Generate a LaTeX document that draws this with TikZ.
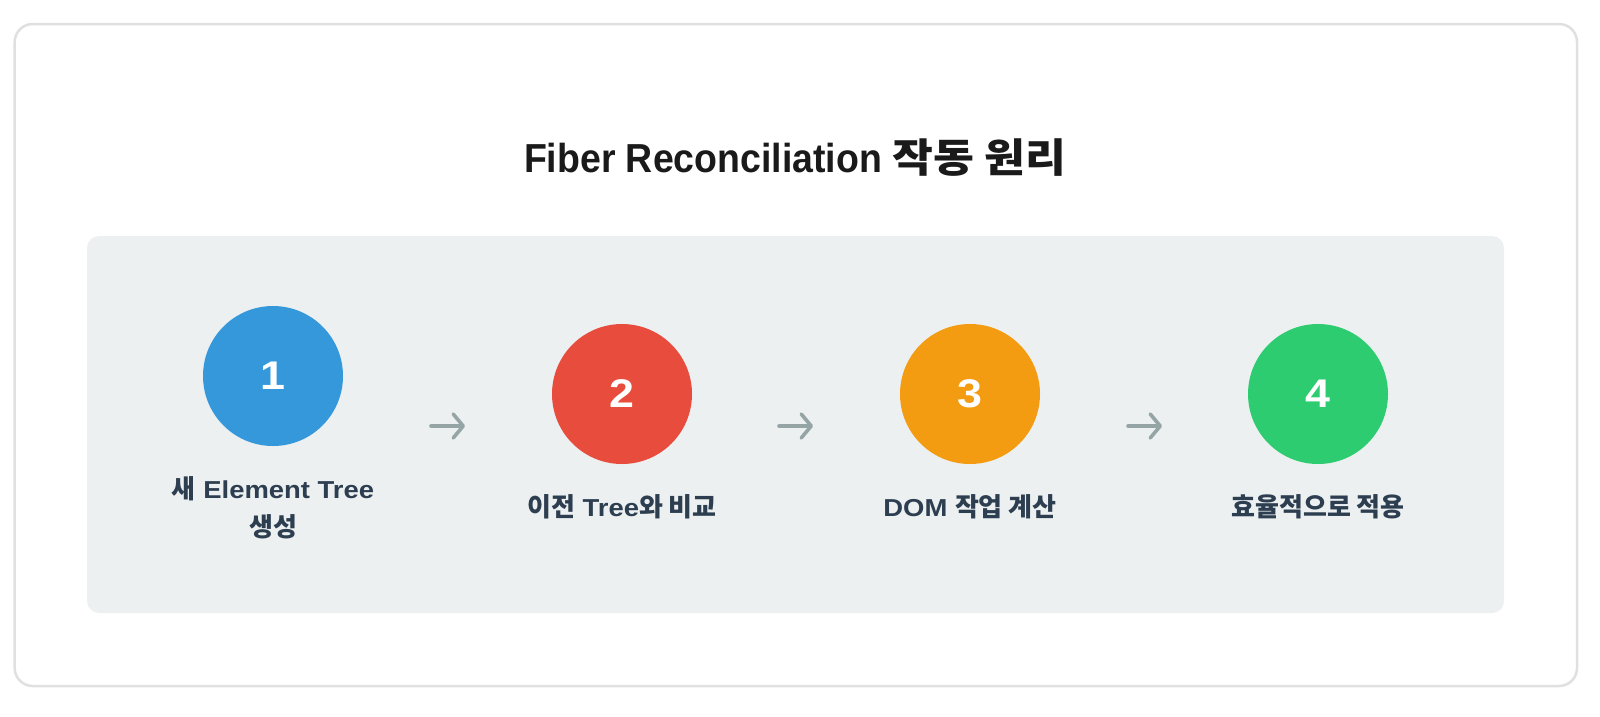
\documentclass[tikz,border=0pt]{standalone}
\usepackage{fontspec}
\usetikzlibrary{arrows.meta}
\setmainfont{Liberation Sans}
\newfontfamily\latw[FakeStretch=1.12]{Liberation Sans}
\newfontfamily\latn[FakeStretch=0.925]{Liberation Sans}
\newfontfamily\kr{Noto Sans CJK KR}
\newfontfamily\krwide[FakeStretch=1.11]{Noto Sans CJK KR}
\newcommand{\krl}[1]{{\fontsize{26}{38}\selectfont\kr #1}}
\newcommand{\krt}[1]{{\fontsize{40}{48}\selectfont\krwide #1}}
\definecolor{cblue}{HTML}{3498DB}
\definecolor{cred}{HTML}{E74C3C}
\definecolor{corange}{HTML}{F39C12}
\definecolor{cgreen}{HTML}{2ECC71}
\definecolor{arrowgray}{HTML}{95A5A6}
\definecolor{labeltext}{HTML}{2C3E50}
\definecolor{titletext}{HTML}{1A1A1A}
\definecolor{panelbg}{HTML}{ECF0F1}
\definecolor{borderc}{HTML}{E0E0E0}
\tikzset{
  outerbox/.style={draw=borderc, line width=2.5pt, fill=white, rounded corners=18pt},
  panelbox/.style={fill=panelbg, rounded corners=12pt},
  titlestyle/.style={font=\fontsize{40.5}{48}\selectfont\bfseries\latn, text=titletext, inner sep=0pt},
  stepcirc/.style={circle, minimum size=140pt, inner sep=0pt, text=white,
    font=\fontsize{40}{40}\selectfont\bfseries\latw},
  steplabel/.style={font=\fontsize{24.5}{38}\selectfont\bfseries\latw, text=labeltext,
    align=center, inner sep=0pt},
  flowarrow/.style={draw=arrowgray, line width=3.6pt, line cap=round,
    -{Straight Barb[length=10pt,width=24pt,round]}}
}
\begin{document}
\begin{tikzpicture}[x=1pt,y=-1pt]
\useasboundingbox (0,0) rectangle (1600,716);
\fill[white] (0,0) rectangle (1600,716);
\draw[outerbox] (14.7,24) rectangle (1577,686);
\fill[panelbox] (87,236) rectangle (1504,613);

\node[titlestyle, anchor=base] (title) at (795,172) {Fiber Reconciliation \krt{작동 원리}};

\node[stepcirc, fill=cblue] (c1) at (273,376) {1};
\node[stepcirc, fill=cred] (c2) at (622,394) {2};
\node[stepcirc, fill=corange] (c3) at (970,394) {3};
\node[stepcirc, fill=cgreen] (c4) at (1318,394) {4};

\node[steplabel, anchor=base] (l1) at (273,536) {\krl{새} Element Tree\\\krl{생성}};
\node[steplabel, anchor=base] (l2) at (622,516) {\krl{이전} Tree\krl{와 비교}};
\node[steplabel, anchor=base] (l3) at (970,516) {DOM \krl{작업 계산}};
\node[steplabel, anchor=base] (l4) at (1318,516) {\krl{효율적으로 적용}};

\coordinate (a1s) at (431,426);
\coordinate (a1e) at (465,426);
\coordinate (a2s) at (779,426);
\coordinate (a2e) at (813,426);
\coordinate (a3s) at (1128,426);
\coordinate (a3e) at (1162,426);
\draw[flowarrow] (a1s) -- (a1e);
\draw[flowarrow] (a2s) -- (a2e);
\draw[flowarrow] (a3s) -- (a3e);
\end{tikzpicture}
\end{document}
